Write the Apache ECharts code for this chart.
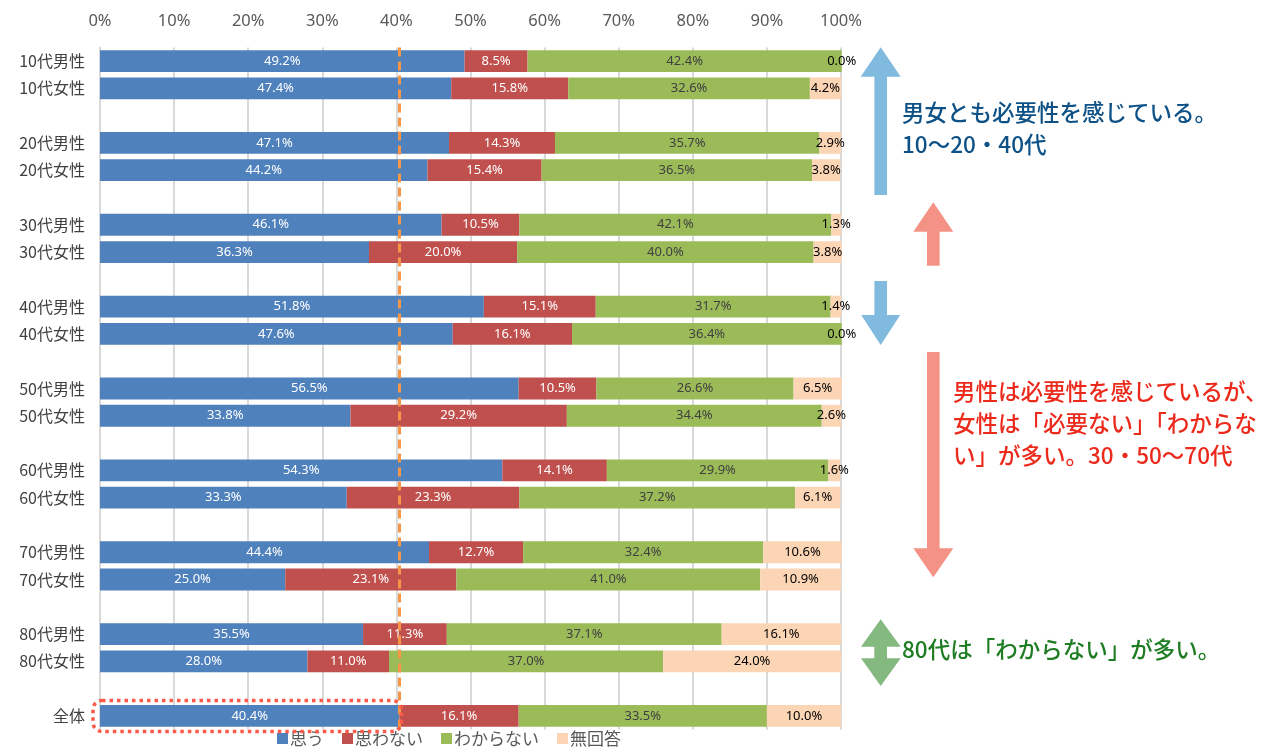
<!DOCTYPE html>
<html>
<head>
<meta charset="utf-8">
<script src="https://cdn.jsdelivr.net/npm/echarts@6/dist/echarts.min.js"></script>
<style>
html, body { margin: 0; padding: 0; background: #fff; }
#main { width: 1284px; height: 749px; }
</style>
</head>
<body>
<div id="main"></div>
<script>
// カテゴリ（空欄は段落の区切り）
var categories = ['10代男性', '10代女性', '', '20代男性', '20代女性', ' ', '30代男性', '30代女性', '  ',
	'40代男性', '40代女性', '   ', '50代男性', '50代女性', '    ', '60代男性', '60代女性', '     ',
	'70代男性', '70代女性', '      ', '80代男性', '80代女性', '       ', '全体'];
var seriesNames = ['思う', '思わない', 'わからない', '無回答'];
var omou = [49.2, 47.4, '-', 47.1, 44.2, '-', 46.1, 36.3, '-', 51.8, 47.6, '-', 56.5, 33.8, '-', 54.3, 33.3, '-', 44.4, 25.0, '-', 35.5, 28.0, '-', 40.4];
var omowanai = [8.5, 15.8, '-', 14.3, 15.4, '-', 10.5, 20.0, '-', 15.1, 16.1, '-', 10.5, 29.2, '-', 14.1, 23.3, '-', 12.7, 23.1, '-', 11.3, 11.0, '-', 16.1];
var wakaranai = [42.4, 32.6, '-', 35.7, 36.5, '-', 42.1, 40.0, '-', 31.7, 36.4, '-', 26.6, 34.4, '-', 29.9, 37.2, '-', 32.4, 41.0, '-', 37.1, 37.0, '-', 33.5];
var mukaitou = [0.0, 4.2, '-', 2.9, 3.8, '-', 1.3, 3.8, '-', 1.4, 0.0, '-', 6.5, 2.6, '-', 1.6, 6.1, '-', 10.6, 10.9, '-', 16.1, 24.0, '-', 10.0];
var totalValue = 40.4;

var colors = ['#4F81BD', '#C0504D', '#9BBB59', '#FCD5B5'];
var labelColors = ['#ffffff', '#ffffff', '#404040', '#000000'];
var allData = [omou, omowanai, wakaranai, mukaitou];

var myChart = echarts.init(document.getElementById('main'));

var series = [];
for (var i = 0; i < 4; i++) {
	series.push({
		name: seriesNames[i],
		type: 'bar',
		stack: 'total',
		barWidth: '80%',
		clip: false,
		itemStyle: { color: colors[i] },
		label: {
			show: true,
			position: 'inside',
			color: labelColors[i],
			fontSize: 13,
			fontFamily: 'Noto Sans',
			formatter: function(p) { return Number(p.value).toFixed(1) + '%'; }
		},
		data: allData[i]
	});
}
//平均線
series[0].markLine = {
	silent: true,
	symbol: 'none',
	label: { show: false },
	lineStyle: { color: '#F79646', type: [9, 5], width: 3 },
	data: [{ xAxis: totalValue }]
};

var option = {
	backgroundColor: '#fff',
	animation: false,
	textStyle: { fontFamily: 'Noto Sans CJK JP' },
	grid: { left: 100, right: 443, top: 47.4, bottom: 19.4 },
	legend: {
		left: 277,
		top: 730,
		padding: 0,
		itemWidth: 11,
		itemHeight: 11,
		itemGap: 18,
		icon: 'rect',
		textStyle: { fontSize: 17, color: '#595959', fontFamily: 'Noto Sans CJK JP', padding: [0, 0, 0, -3] },
		data: seriesNames
	},
	xAxis: {
		type: 'value',
		position: 'top',
		min: 0,
		max: 100,
		interval: 10,
		axisLine: { show: false },
		axisTick: { show: false },
		axisLabel: { formatter: '{value}%', fontSize: 16.5, color: '#595959', margin: 18, fontFamily: 'Noto Sans' },
		splitLine: { lineStyle: { color: '#D9D9D9', width: 2 } }
	},
	yAxis: {
		type: 'category',
		inverse: true,
		data: categories,
		axisLine: { lineStyle: { color: '#D9D9D9', width: 2 } },
		axisTick: { show: false },
		axisLabel: { fontSize: 16, color: '#404040', margin: 15, fontFamily: 'Noto Sans CJK JP' }
	},
	series: series
};
myChart.setOption(option);

//注釈（矢印・テキスト・点線枠）
function upArrow(cx, tip, base, bottom, hw, sw, color) {
	return {
		type: 'polygon',
		shape: { points: [[cx, tip], [cx + hw, base], [cx + sw, base], [cx + sw, bottom], [cx - sw, bottom], [cx - sw, base], [cx - hw, base]] },
		style: { fill: color }
	};
}
function downArrow(cx, top, base, tip, hw, sw, color) {
	return {
		type: 'polygon',
		shape: { points: [[cx - sw, top], [cx + sw, top], [cx + sw, base], [cx + hw, base], [cx, tip], [cx - hw, base], [cx - sw, base]] },
		style: { fill: color }
	};
}
var p0 = myChart.convertToPixel({ gridIndex: 0 }, [0, categories.length - 1]);
var p1 = myChart.convertToPixel({ gridIndex: 0 }, [totalValue, categories.length - 1]);

var textFont = 'Noto Sans CJK JP';
myChart.setOption({
	graphic: [
		upArrow(880.7, 47.3, 76.7, 195, 20, 6.3, '#80BADF'),
		upArrow(933.3, 202.3, 231.7, 265.7, 20, 6.3, '#F59286'),
		downArrow(880.7, 281, 315, 345, 19.5, 6.3, '#80BADF'),
		downArrow(933.3, 352, 548.3, 577.3, 20, 6.3, '#F59286'),
		{
			type: 'polygon',
			shape: { points: [[880.7, 619.3], [900.7, 646.7], [887, 646.7], [887, 658.3], [900.7, 658.3], [880.7, 686], [861, 658.3], [874.3, 658.3], [874.3, 646.7], [861, 646.7]] },
			style: { fill: '#84B980' }
		},
		{
			type: 'text', left: 902, top: 96,
			style: { text: '男女とも必要性を感じている。\n10〜20・40代', fill: '#0D5186', font: '500 22.5px "' + textFont + '"', lineHeight: 32 }
		},
		{
			type: 'text', left: 953, top: 376,
			style: { text: '男性は必要性を感じているが、\n女性は「必要ない」「わからな\nい」が多い。30・50〜70代', fill: '#EC2A1C', font: '500 22.5px "' + textFont + '"', lineHeight: 31.7 }
		},
		{
			type: 'text', left: 902, top: 638,
			style: { text: '80代は「わからない」が多い。', fill: '#1E7D22', font: '500 22.5px "' + textFont + '"' }
		},
		{
			type: 'rect',
			shape: { x: p0[0] - 7, y: p0[1] - 15.5, width: p1[0] - p0[0] + 9, height: 31, r: 9 },
			style: { fill: 'none', stroke: '#FF5A47', lineWidth: 3.5, lineDash: [3.5, 4] },
			z: 100
		}
	]
});
</script>
</body>
</html>
